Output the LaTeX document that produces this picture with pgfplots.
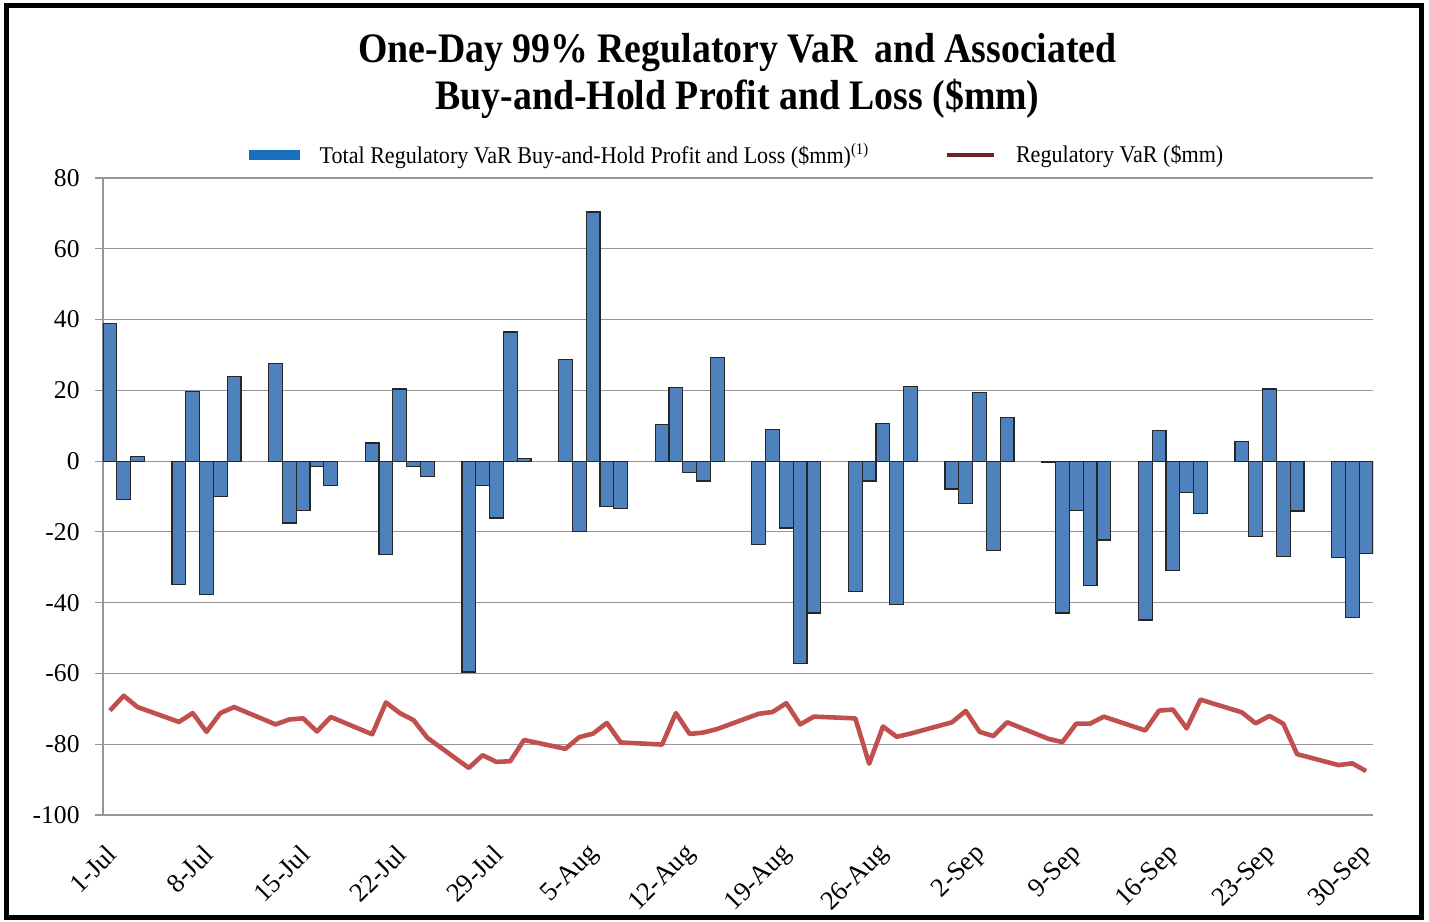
\documentclass[border=0pt]{standalone}
\usepackage{fontspec}
\setmainfont{Liberation Serif}
\newfontfamily\titlefont[FakeStretch=0.9]{Liberation Serif}
\newfontfamily\legfont[FakeStretch=0.92]{Liberation Serif}
\usepackage{pgfplots}
\usepackage{pgfplotstable}
\pgfplotsset{compat=1.18}
\definecolor{barblue}{RGB}{79,129,189}
\definecolor{varred}{RGB}{192,80,77}
\definecolor{legblue}{RGB}{25,110,190}
\definecolor{legred}{RGB}{110,35,35}
\definecolor{gridgray}{RGB}{150,150,150}

% day index: 0 = 1-Jul, 91 = 30-Sep
\pgfplotstableread{
d v
0 38.9
1 -10.8
2 1.3
5 -34.9
6 19.7
7 -37.7
8 -10.1
9 23.9
12 27.5
13 -17.5
14 -14.0
15 -1.6
16 -6.9
19 5.1
20 -26.3
21 20.4
22 -1.6
23 -4.3
26 -59.6
27 -6.8
28 -16.1
29 36.5
30 0.7
33 28.8
34 -19.9
35 70.4
36 -12.9
37 -13.5
40 10.4
41 20.8
42 -3.2
43 -5.6
44 29.2
47 -23.6
48 8.9
49 -18.9
50 -57.3
51 -42.9
54 -36.9
55 -5.6
56 10.7
57 -40.5
58 21.1
61 -7.9
62 -12.0
63 19.3
64 -25.2
65 12.4
68 -0.3
69 -42.9
70 -14.0
71 -35.2
72 -22.3
75 -44.9
76 8.7
77 -30.8
78 -8.8
79 -14.7
82 5.5
83 -21.3
84 20.4
85 -26.9
86 -14.1
89 -27.3
90 -44.3
91 -26.1
}\pnltable

\pgfplotstableread{
d v
0 -70.5
1 -66.3
2 -69.5
5 -73.7
6 -71.2
7 -76.5
8 -71.2
9 -69.5
12 -74.4
13 -73.0
14 -72.7
15 -76.4
16 -72.3
19 -77.2
20 -68.2
21 -71.2
22 -73.2
23 -78.2
26 -86.7
27 -83.1
28 -85.0
29 -84.8
30 -78.8
33 -81.3
34 -78.0
35 -77.0
36 -74.0
37 -79.5
40 -80.1
41 -71.2
42 -77.1
43 -76.7
44 -75.7
47 -71.4
48 -70.9
49 -68.4
50 -74.4
51 -72.2
54 -72.7
55 -85.5
56 -75.0
57 -77.9
58 -77.0
61 -73.8
62 -70.6
63 -76.5
64 -77.7
65 -73.8
68 -78.5
69 -79.4
70 -74.2
71 -74.2
72 -72.2
75 -76.1
76 -70.5
77 -70.2
78 -75.5
79 -67.4
82 -71.0
83 -74.1
84 -72.0
85 -74.2
86 -82.8
89 -85.9
90 -85.4
91 -87.6
}\vartable

\begin{document}
\begin{tikzpicture}
\useasboundingbox (0,0) rectangle (714.5pt,460.5pt);
\draw[line width=2.5pt] (3.25pt,1.75pt) rectangle (710.5pt,457.75pt);
\node[font=\titlefont\bfseries\fontsize{21}{23.5}\selectfont, align=center, inner sep=0pt]
  at (368.75pt,422.3pt) {One-Day 99\% Regulatory VaR\, and Associated\\Buy-and-Hold Profit and Loss (\$mm)};
\begin{axis}[
  at={(51.5pt,53pt)}, anchor=south west,
  width=635pt, height=318.5pt, scale only axis,
  xmin=-0.5, xmax=91.5, ymin=-100, ymax=80,
  ytick={-100,-80,...,80},
  xtick={0,7,...,91},
  xticklabels={1-Jul,8-Jul,15-Jul,22-Jul,29-Jul,5-Aug,12-Aug,19-Aug,26-Aug,2-Sep,9-Sep,16-Sep,23-Sep,30-Sep},
  axis x line*=bottom, axis y line*=left,
  axis line style={gridgray, line width=0.6pt, -},
  ymajorgrids, major grid style={gridgray, line width=0.6pt},
  tick align=outside, major tick length=4pt,
  y tick style={gridgray, line width=0.6pt},
  x tick style={draw=none},
  /pgf/number format/assume math mode=true,
  yticklabel style={font=\fontsize{12.8}{14}\selectfont, anchor=east, inner sep=0pt, xshift=-7.5pt},
  xticklabel style={font=\fontsize{13.3}{15}\selectfont, xshift=1pt, yshift=-13.5pt, rotate=45, anchor=east, inner sep=0pt},
  legend style={at={(axis description cs:0.1103,1.036)}, anchor=west, draw=none, fill=none,
    font=\legfont\fontsize{12}{14}\selectfont, legend columns=2,
    /tikz/every odd column/.append style={column sep=8pt},
    /tikz/every even column/.append style={column sep=35.5pt}},
]
\addplot[ybar, bar width=1, bar shift=0pt, fill=barblue, draw=black!85, line width=0.6pt,
  legend image code/.code={\fill[legblue] (0pt,-2.2pt) rectangle (24.5pt,2.2pt);}]
  table[x=d, y=v] {\pnltable};
\addlegendentry{Total Regulatory VaR Buy-and-Hold Profit and Loss (\$mm)\textsuperscript{(1)}}
\addplot[varred, line width=2.3pt, line join=round, mark=none,
  legend image code/.code={\draw[legred, line width=2.4pt] (0pt,0pt) -- (23.5pt,0pt);}]
  table[x=d, y=v] {\vartable};
\addlegendentry{Regulatory VaR (\$mm)}
\end{axis}
\end{tikzpicture}
\end{document}
